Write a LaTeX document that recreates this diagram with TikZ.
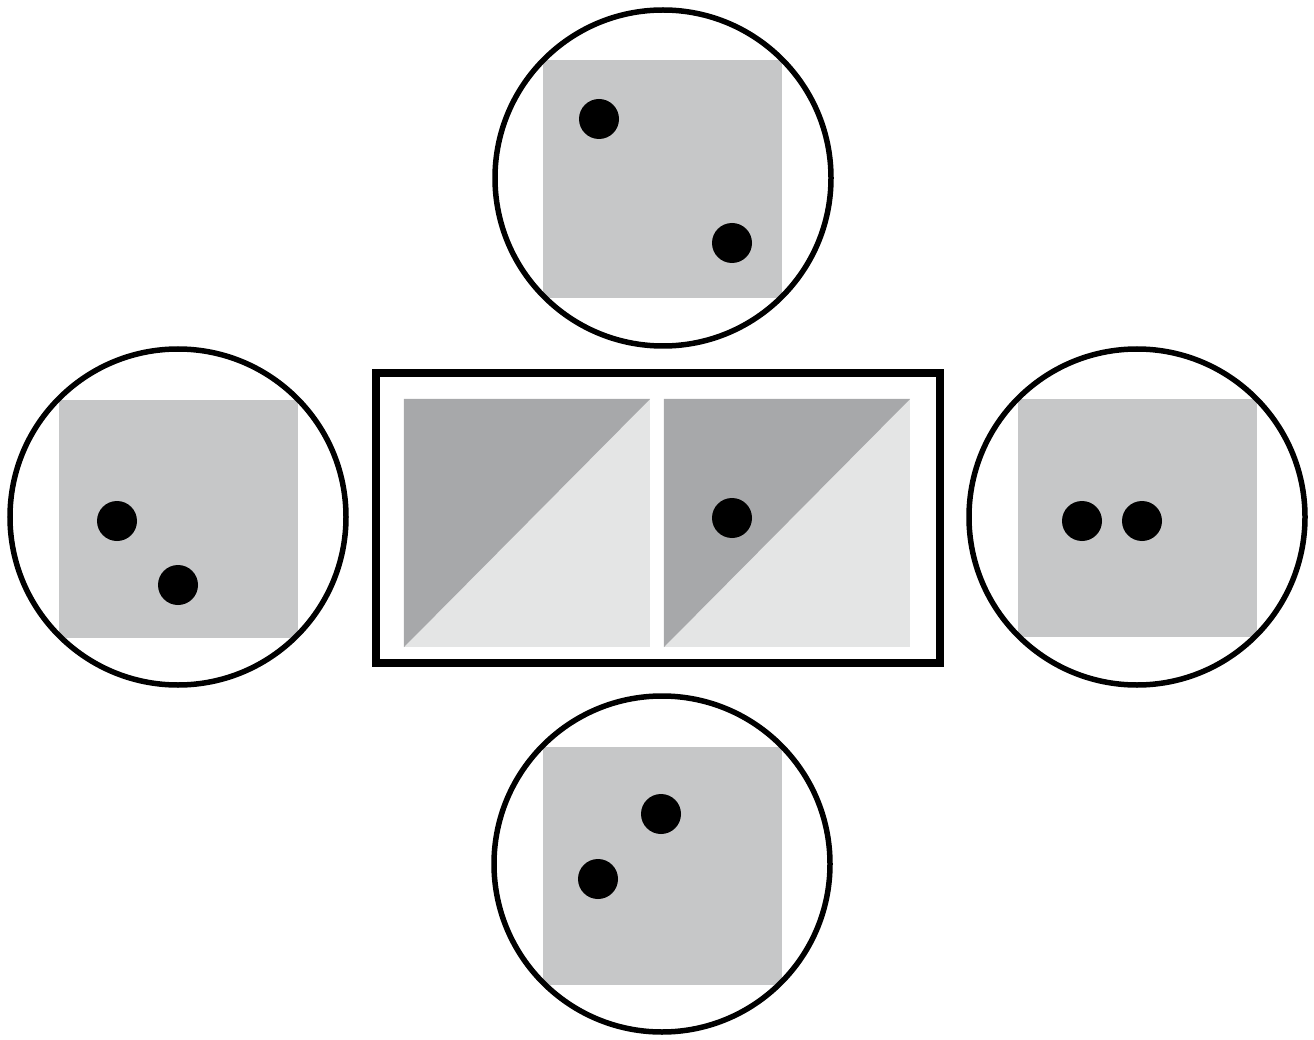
\documentclass[tikz,border=0pt]{standalone}
\usepackage{xcolor}
\usepackage{tikz}
\usetikzlibrary{positioning, calc}
\definecolor{diegray}{HTML}{C6C7C8}
\definecolor{shadedark}{HTML}{A7A8AA}
\definecolor{shadelight}{HTML}{E4E5E5}

\tikzset{
  lens/.style={circle, draw=black, line width=5.5pt, minimum size=336pt, inner sep=0pt},
  face/.style={fill=diegray, minimum width=239pt, minimum height=238pt, inner sep=0pt},
  pane/.style={minimum width=246pt, minimum height=248pt, inner sep=0pt},
  pip/.style={circle, fill=black, minimum size=40pt, inner sep=0pt}
}

\begin{document}
\begin{tikzpicture}[x=1pt, y=-1pt]
    \useasboundingbox (0,0) rectangle (1314,1040);

    % the four views
    \node[face] (topface) at (662,179) {};
    \node[face] (leftface) at (178.5,518.5) {};
    \node[face] (rightface) at (1137.5,518) {};
    \node[face] (bottomface) at (662.5,866) {};
    \node[lens] (toplens) at (663,178) {};
    \node[lens] (leftlens) at (178,517) {};
    \node[lens] (rightlens) at (1137,517) {};
    \node[lens] (bottomlens) at (662,864) {};

    \node[pip] (top1) at (599,119) {};
    \node[pip] (top2) at (732,243) {};
    \node[pip] (left1) at (117,521) {};
    \node[pip] (left2) at (178,585) {};
    \node[pip] (right1) at (1082,521) {};
    \node[pip] (right2) at (1142,521) {};
    \node[pip] (bottom1) at (661,814) {};
    \node[pip] (bottom2) at (598,879) {};

    % the middle frame
    \node[pane] (leftpane) at (527,523) {};
    \node[pane] (rightpane) at (787,523) {};
    \foreach \p in {leftpane, rightpane} {
      \fill[shadelight] (\p.south west) rectangle (\p.north east);
      \fill[shadedark] (\p.south west) -- (\p.north west) -- (\p.north east) -- cycle;
    }
    \node[draw=black, line width=8.5pt, minimum width=564pt, minimum height=290pt,
          inner sep=0pt] (frame) at (658,518) {};
    \node[pip] (mid) at (732,518) {};
\end{tikzpicture}
\end{document}
